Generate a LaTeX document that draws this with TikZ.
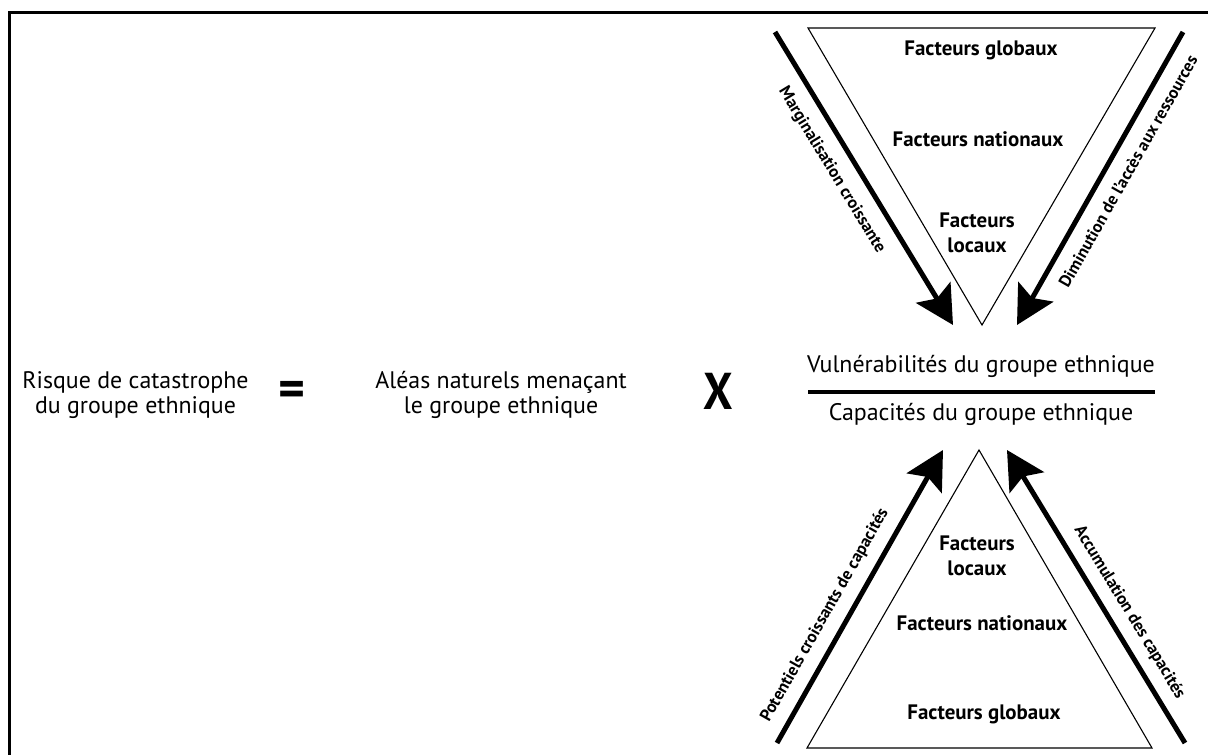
\documentclass[tikz,border=0pt]{standalone}
\usepackage{fontspec}
\setmainfont{PT Sans}
\usetikzlibrary{arrows.meta}
\begin{document}
\begin{tikzpicture}[x=1bp,y=-1bp,
  tri/.style={draw, line width=1.1bp, line join=miter},
  bigarrow/.style={line width=5bp, -{Stealth[length=38bp,width=40bp,inset=7bp]}},
  lab/.style={font=\fontsize{24}{25}\selectfont, align=center, inner sep=0},
  fac/.style={font=\fontsize{21}{25}\selectfont\bfseries, align=center, inner sep=0, anchor=base},
  side/.style={font=\fontsize{17}{19}\selectfont\bfseries, sloped, inner xsep=0}]
\useasboundingbox (0,0) rectangle (1208,755);
\fill[white] (0,0) rectangle (1208,755);
% frame
\coordinate (F1) at (9.5,755);
\coordinate (F2) at (9.5,13);
\coordinate (F3) at (1208,13);
\draw[line width=3bp, line join=miter] (F1) -- (F2) -- (F3);
% equation
\node[lab, anchor=base] (risque) at (135.5,413) {Risque de catastrophe\\du groupe ethnique};
\node[inner sep=0] (eq) at (291.5,393.5) {\resizebox{27bp}{!}{\fontsize{30}{30}\selectfont\bfseries =}};
\node[lab, anchor=base] (aleas) at (501,413) {Aléas naturels menaçant\\le groupe ethnique};
\node[inner sep=0] (times) at (718,391) {\scalebox{0.9}[1]{\fontsize{52}{52}\selectfont\bfseries X}};
\node[lab, anchor=base] (vul) at (981,372) {Vulnérabilités du groupe ethnique};
\node[lab, anchor=base] (cap) at (981,420) {Capacités du groupe ethnique};
\coordinate (L1) at (808,392);
\coordinate (L2) at (1155,392);
\draw[line width=4bp] (L1) -- (L2);
% top triangle
\coordinate (T1) at (808,28);
\coordinate (T2) at (1155,28);
\coordinate (T3) at (982,325);
\draw[tri] (T1) -- (T2) -- (T3) -- cycle;
\node[fac] (tg) at (981,56) {Facteurs globaux};
\node[fac] (tn) at (978,146) {Facteurs nationaux};
\node[fac] (tl) at (977,252) {Facteurs\\locaux};
\coordinate (A1s) at (775,32);
\coordinate (A1e) at (953,325);
\draw[bigarrow] (A1s) -- node[side, pos=0.43, below, inner ysep=13bp] (marg) {Marginalisation croissante} (A1e);
\coordinate (A2s) at (1183,32);
\coordinate (A2e) at (1017,325);
\draw[bigarrow] (A2s) -- node[side, pos=0.44, below, inner ysep=12bp] (dimi) {Diminution de l'accès aux ressources} (A2e);
% bottom triangle
\coordinate (B1) at (979,450);
\coordinate (B2) at (807,748);
\coordinate (B3) at (1152,748);
\draw[tri] (B1) -- (B2) -- (B3) -- cycle;
\node[fac] (bl) at (977,575) {Facteurs\\locaux};
\node[fac] (bn) at (982,630) {Facteurs nationaux};
\node[fac] (bg) at (984,719) {Facteurs globaux};
\coordinate (A3s) at (777,743);
\coordinate (A3e) at (943,450);
\draw[bigarrow] (A3s) -- node[side, pos=0.40, above, inner ysep=11bp] (pot) {Potentiels croissants de capacités} (A3e);
\coordinate (A4s) at (1185,743);
\coordinate (A4e) at (1007,450);
\draw[bigarrow] (A4s) -- node[side, pos=0.41, above, inner ysep=10bp] (accu) {Accumulation des capacités} (A4e);
\end{tikzpicture}
\end{document}
